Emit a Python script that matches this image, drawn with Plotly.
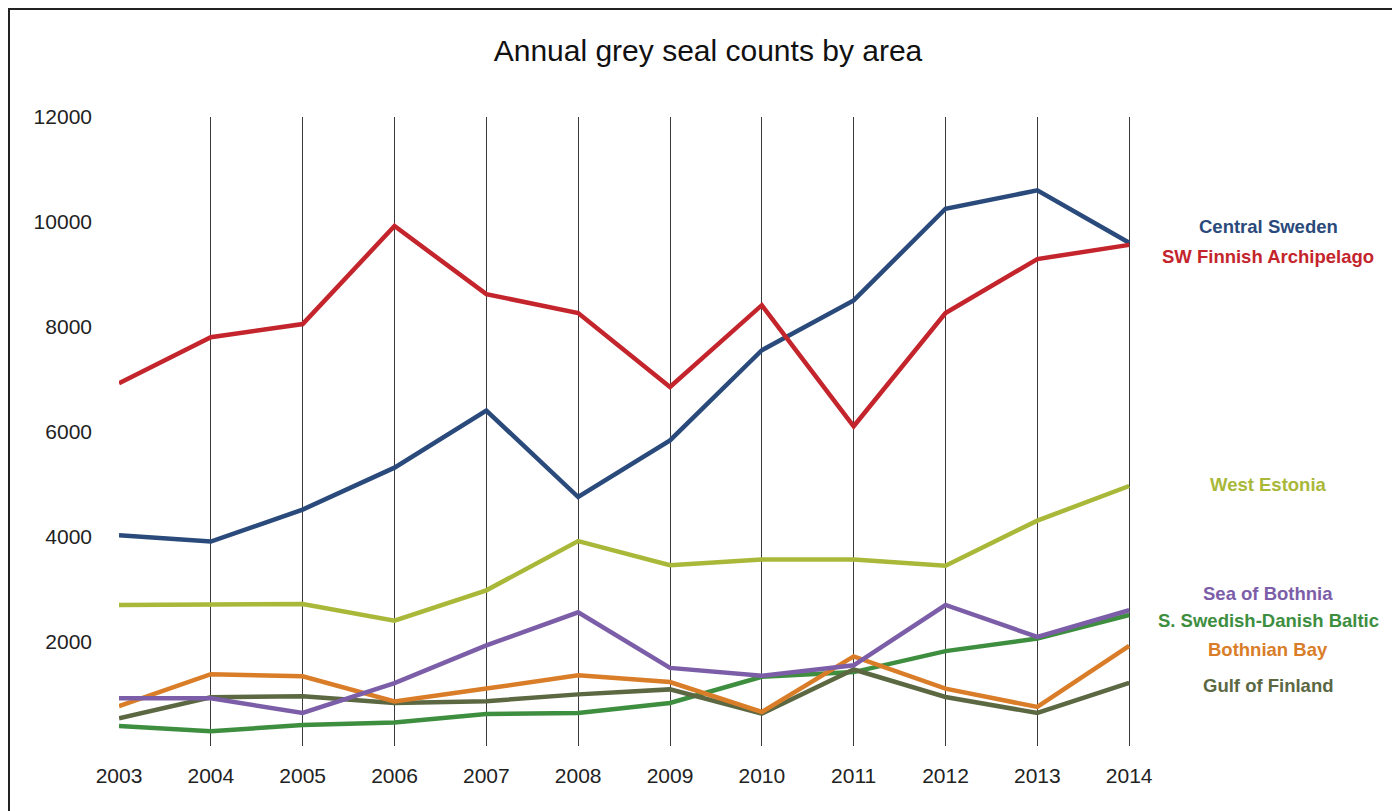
import plotly.graph_objects as go

years = [2003, 2004, 2005, 2006, 2007, 2008, 2009, 2010, 2011, 2012, 2013, 2014]

central_sweden = [4020, 3900, 4510, 5310, 6400, 4750, 5830, 7550, 8500, 10250, 10600, 9600]
sw_finnish = [6920, 7800, 8050, 9920, 8620, 8260, 6850, 8410, 6100, 8260, 9290, 9560]
west_estonia = [2690, 2710, 2710, 2390, 2970, 3910, 3450, 3560, 3560, 3440, 4300, 4960]
sea_of_bothnia = [910, 910, 630, 1200, 1920, 2550, 1490, 1340, 1540, 2690, 2080, 2590]
s_swedish_danish = [380, 280, 400, 450, 610, 630, 820, 1320, 1410, 1810, 2050, 2500]
bothnian_bay = [760, 1370, 1330, 850, 1095, 1350, 1220, 650, 1710, 1095, 745, 1910]
gulf_of_finland = [530, 930, 950, 820, 855, 985, 1080, 620, 1460, 935, 630, 1205]

y_ticks = [2000, 4000, 6000, 8000, 10000, 12000]

series = [
    ("Central Sweden", central_sweden, "#2a4a7b"),
    ("SW Finnish Archipelago", sw_finnish, "#c4252c"),
    ("West Estonia", west_estonia, "#a9b838"),
    ("Sea of Bothnia", sea_of_bothnia, "#7c5ea8"),
    ("S. Swedish-Danish Baltic", s_swedish_danish, "#3e8e3f"),
    ("Bothnian Bay", bothnian_bay, "#d97d28"),
    ("Gulf of Finland", gulf_of_finland, "#5b6842"),
]
label_y = [9920, 9330, 4980, 2900, 2400, 1850, 1160]

fig = go.Figure()
draw_order = [4, 6, 5, 3, 2, 0, 1]
for i in draw_order:
    name, vals, col = series[i]
    fig.add_trace(go.Scatter(x=years, y=vals, mode="lines", name=name,
                             line=dict(color=col, width=4.5), showlegend=False))

for (name, vals, col), ly in zip(series, label_y):
    fig.add_annotation(x=1.1354, xref="paper", y=ly, yref="y", text="<b>%s</b>" % name,
                       showarrow=False, xanchor="center", yanchor="middle",
                       font=dict(family="Liberation Sans", size=18.5, color=col))

fig.add_shape(type="rect", xref="paper", yref="paper", x0=-0.1087, x1=1.6, y0=-0.3, y1=1.1717,
              line=dict(color="#222", width=2), fillcolor="rgba(0,0,0,0)")

fig.update_layout(
    width=1400, height=811,
    paper_bgcolor="white", plot_bgcolor="white",
    margin=dict(l=111, r=277, t=109, b=73),
    title=dict(text="Annual grey seal counts by area", x=0.5, xanchor="center",
               y=1 - 42 / 811, yanchor="middle",
               font=dict(family="Liberation Sans", size=30, color="#111")),
    font=dict(family="Liberation Sans", size=21, color="#222"),
    xaxis=dict(range=[2003, 2014.02], tickvals=years, ticktext=[str(y) for y in years],
               showgrid=True, gridcolor="#3a3a3a", gridwidth=1, zeroline=False,
               showline=False, ticks="", ticklabelstandoff=15,
               tickfont=dict(size=21, color="#222")),
    yaxis=dict(range=[0, 12000], tickvals=y_ticks, ticktext=[str(v) for v in y_ticks],
               showgrid=False, zeroline=False, showline=False, ticks="",
               ticklabelstandoff=26, tickfont=dict(size=21, color="#222")),
)

fig.write_html("out.html")
